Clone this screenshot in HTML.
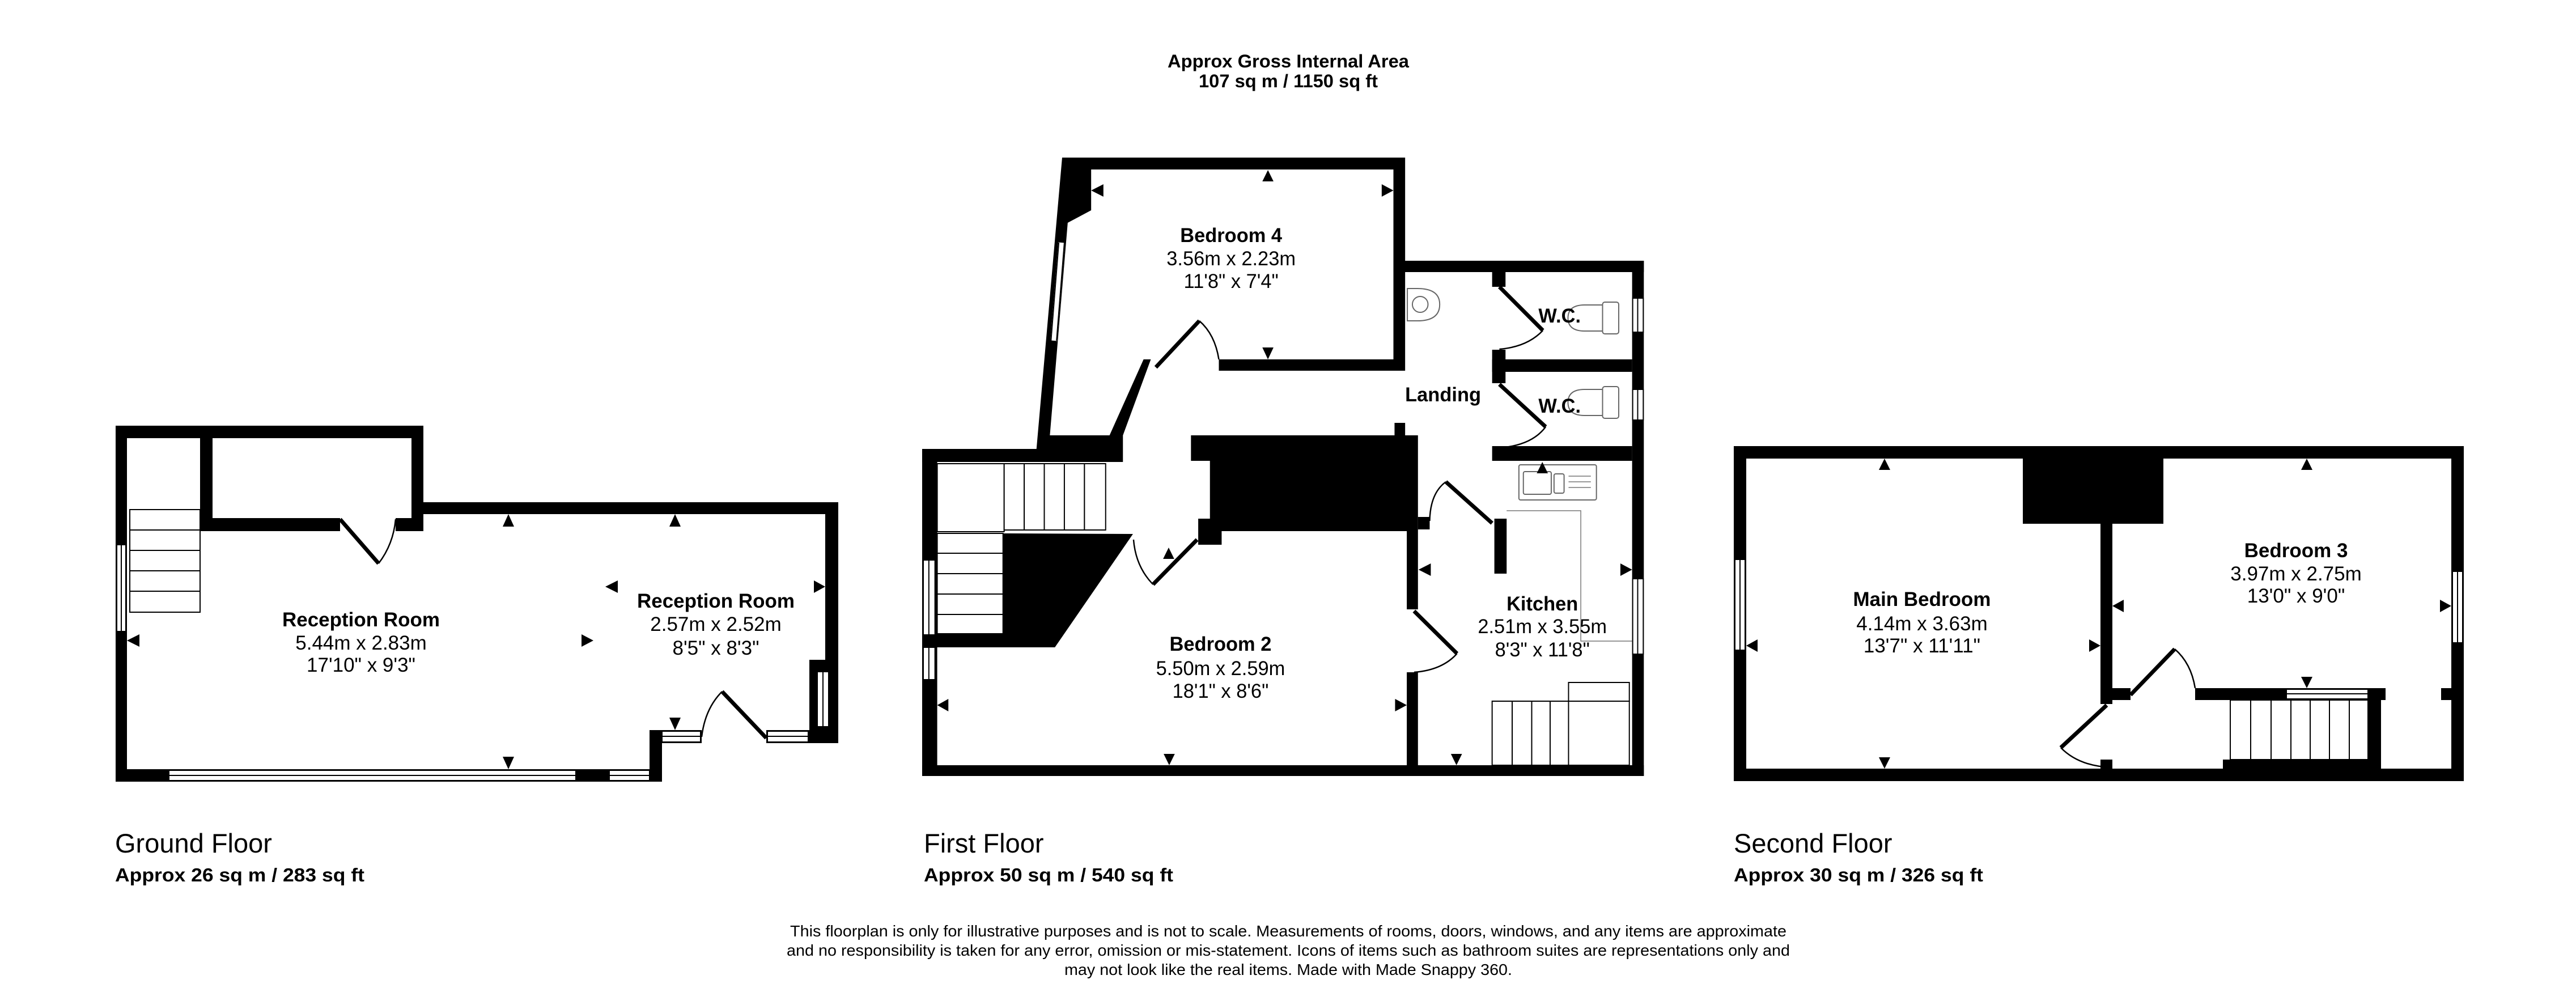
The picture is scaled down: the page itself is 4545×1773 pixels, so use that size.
<!DOCTYPE html>
<html><head><meta charset="utf-8"><style>
html,body{margin:0;padding:0;background:#fff;}
svg{display:block;}
text{font-family:"Liberation Sans",Arial,sans-serif;fill:#000;}
.b{font-weight:bold;}
.w{fill:#fff;stroke:#000;stroke-width:2;}
.t{fill:none;stroke:#777;stroke-width:1.5;}
.s{fill:#fff;stroke:#666;stroke-width:2;}
</style></head><body>
<svg width="4545" height="1773" viewBox="0 0 4545 1773" xmlns="http://www.w3.org/2000/svg">
<rect width="4545" height="1773" fill="#fff"/>

<!-- Header -->
<text x="2273" y="119" text-anchor="middle" class="b" font-size="32" textLength="426" lengthAdjust="spacingAndGlyphs">Approx Gross Internal Area</text>
<text x="2273" y="154" text-anchor="middle" class="b" font-size="32" textLength="316" lengthAdjust="spacingAndGlyphs">107 sq m / 1150 sq ft</text>

<!-- ============ GROUND FLOOR ============ -->
<g fill="#000">
<rect x="204" y="751" width="543" height="22"/>
<rect x="204" y="751" width="20" height="628"/>
<rect x="353" y="773" width="22" height="164"/>
<rect x="353" y="914" width="247" height="23"/>
<rect x="698" y="914" width="49" height="23"/>
<rect x="726" y="751" width="21" height="186"/>
<rect x="726" y="886" width="753" height="21"/>
<rect x="1456" y="886" width="23" height="425"/>
<rect x="1428" y="1164" width="51" height="147"/>
<rect x="1146" y="1288" width="92" height="23"/>
<rect x="1352" y="1288" width="76" height="23"/>
<rect x="1146" y="1288" width="22" height="91"/>
<rect x="204" y="1357" width="964" height="22"/>
</g>
<rect class="w" x="206" y="961" width="16" height="153"/><line x1="214" y1="961" x2="214" y2="1114" stroke="#000" stroke-width="2"/>
<rect class="w" x="298" y="1359" width="718" height="18"/><line x1="298" y1="1368" x2="1016" y2="1368" stroke="#000" stroke-width="2"/>
<rect class="w" x="1075" y="1359" width="71" height="18"/><line x1="1075" y1="1368" x2="1146" y2="1368" stroke="#000" stroke-width="2"/>
<rect class="w" x="1168" y="1290" width="68" height="19"/><line x1="1168" y1="1299" x2="1236" y2="1299" stroke="#000" stroke-width="2"/>
<rect class="w" x="1354" y="1290" width="72" height="19"/><line x1="1354" y1="1299" x2="1426" y2="1299" stroke="#000" stroke-width="2"/>
<rect class="w" x="1442" y="1185" width="20" height="97"/><line x1="1452" y1="1185" x2="1452" y2="1282" stroke="#000" stroke-width="2"/>
<g fill="#fff" stroke="#000" stroke-width="2">
<rect x="229" y="899" width="124" height="36"/>
<rect x="229" y="935" width="124" height="36"/>
<rect x="229" y="971" width="124" height="36"/>
<rect x="229" y="1007" width="124" height="36"/>
<rect x="229" y="1043" width="124" height="37"/>
</g>
<line x1="600" y1="916" x2="668" y2="994" stroke="#000" stroke-width="7"/>
<path d="M668 994 Q694 960 698 916" fill="none" stroke="#000" stroke-width="2.5"/>
<line x1="1352" y1="1302" x2="1274" y2="1220" stroke="#000" stroke-width="7"/>
<path d="M1274 1220 Q1244 1250 1238 1300" fill="none" stroke="#000" stroke-width="2.5"/>
<g fill="#000">
<polygon points="887,929 907,929 897,907"/>
<polygon points="1181,929 1201,929 1191,907"/>
<polygon points="887,1335 907,1335 897,1357"/>
<polygon points="246,1119 246,1141 224,1130"/>
<polygon points="1026,1119 1026,1141 1047,1130"/>
<polygon points="1090,1024 1090,1046 1068,1035"/>
<polygon points="1436,1024 1436,1046 1456,1035"/>
<polygon points="1181,1266 1201,1266 1191,1288"/>
</g>
<text x="637" y="1105" text-anchor="middle" class="b" font-size="35">Reception Room</text>
<text x="637" y="1146" text-anchor="middle" font-size="35">5.44m x 2.83m</text>
<text x="637" y="1185" text-anchor="middle" font-size="35">17'10" x 9'3"</text>
<text x="1263" y="1072" text-anchor="middle" class="b" font-size="35">Reception Room</text>
<text x="1263" y="1113" text-anchor="middle" font-size="35">2.57m x 2.52m</text>
<text x="1263" y="1155" text-anchor="middle" font-size="35">8'5" x 8'3"</text>

<text x="203" y="1504" font-size="47">Ground Floor</text>
<text x="203" y="1555" class="b" font-size="33" textLength="440" lengthAdjust="spacingAndGlyphs">Approx 26 sq m / 283 sq ft</text>

<!-- ============ FIRST FLOOR ============ -->
<g transform="translate(1628,0) scale(0.984,1) translate(-1628,0)">
<g fill="#000">
<polygon points="1878,278 2493,278 2493,654 2159,654 2159,634 2472,634 2472,299 1930,299 1930,371 1888,393 1856,768 1987,768 1987,815 1627,815 1627,792 1832,792"/>
<polygon points="1963,768 1987,768 2037,634 2024,634"/>
<rect x="1627" y="792" width="27" height="577"/>
<rect x="1627" y="1350" width="1294" height="19"/>
<rect x="2900" y="460" width="21" height="909"/>
<rect x="2472" y="460" width="449" height="20"/>
<rect x="2649" y="480" width="24" height="26"/>
<rect x="2649" y="617" width="24" height="59"/>
<rect x="2649" y="634" width="251" height="22"/>
<rect x="2649" y="787" width="251" height="26"/>
<rect x="2653" y="915" width="22" height="97"/>
<rect x="2516" y="912" width="21" height="22"/>
<rect x="2109" y="768" width="407" height="45"/>
<rect x="2143" y="813" width="373" height="124"/>
<rect x="2474" y="746" width="19" height="22"/>
<rect x="2122" y="915" width="42" height="46"/>
<rect x="2496" y="937" width="20" height="138"/>
<rect x="2496" y="1186" width="20" height="183"/>
<polygon points="1772,941 2005,942 1865,1142 1627,1142 1627,1118 1772,1118"/>
</g>
<line x1="1877" y1="428" x2="1863" y2="601" stroke="#fff" stroke-width="12"/>
<line x1="1882" y1="428" x2="1868" y2="601" stroke="#000" stroke-width="2"/>
<line x1="1872" y1="428" x2="1858" y2="601" stroke="#000" stroke-width="2"/>
<rect class="w" x="1629" y="988" width="21" height="132"/><line x1="1639" y1="988" x2="1639" y2="1120" stroke="#000" stroke-width="2"/>
<rect class="w" x="1629" y="1142" width="21" height="57"/><line x1="1639" y1="1142" x2="1639" y2="1199" stroke="#000" stroke-width="2"/>
<rect class="w" x="2901" y="526" width="19" height="60"/><line x1="2910" y1="526" x2="2910" y2="586" stroke="#000" stroke-width="2"/>
<rect class="w" x="2901" y="687" width="19" height="54"/><line x1="2910" y1="687" x2="2910" y2="741" stroke="#000" stroke-width="2"/>
<rect class="w" x="2901" y="1021" width="19" height="133"/><line x1="2910" y1="1021" x2="2910" y2="1154" stroke="#000" stroke-width="2"/>
<g fill="#fff" stroke="#000" stroke-width="2">
<rect x="1654" y="818" width="120" height="120"/>
<rect x="1774" y="818" width="36" height="117"/>
<rect x="1810" y="818" width="36" height="117"/>
<rect x="1846" y="818" width="36" height="117"/>
<rect x="1882" y="818" width="36" height="117"/>
<rect x="1918" y="818" width="38" height="117"/>
<rect x="1654" y="941" width="118" height="35"/>
<rect x="1654" y="976" width="118" height="36"/>
<rect x="1654" y="1012" width="118" height="36"/>
<rect x="1654" y="1048" width="118" height="36"/>
<rect x="1654" y="1084" width="118" height="34"/>
<rect x="2649" y="1237" width="36" height="113"/>
<rect x="2685" y="1237" width="35" height="113"/>
<rect x="2720" y="1237" width="33" height="113"/>
<rect x="2753" y="1237" width="33" height="113"/>
<rect x="2786" y="1237" width="109" height="113"/>
<rect x="2786" y="1204" width="109" height="33"/>
</g>
<line x1="2046" y1="648" x2="2124" y2="566" stroke="#000" stroke-width="7"/>
<path d="M2124 566 Q2152 590 2159 634" fill="none" stroke="#000" stroke-width="2.5"/>
<line x1="2662" y1="506" x2="2740" y2="583" stroke="#000" stroke-width="7"/>
<path d="M2740 583 Q2712 612 2662 616" fill="none" stroke="#000" stroke-width="2.5"/>
<line x1="2662" y1="678" x2="2745" y2="753" stroke="#000" stroke-width="7"/>
<path d="M2745 753 Q2720 786 2662 790" fill="none" stroke="#000" stroke-width="2.5"/>
<line x1="2566" y1="850" x2="2649" y2="923" stroke="#000" stroke-width="7"/>
<path d="M2566 850 Q2538 870 2537 919" fill="none" stroke="#000" stroke-width="2.5"/>
<line x1="2120" y1="952" x2="2041" y2="1031" stroke="#000" stroke-width="7"/>
<path d="M2041 1031 Q2010 1000 2006 952" fill="none" stroke="#000" stroke-width="2.5"/>
<line x1="2509" y1="1078" x2="2586" y2="1153" stroke="#000" stroke-width="7"/>
<path d="M2586 1153 Q2560 1182 2509 1186" fill="none" stroke="#000" stroke-width="2.5"/>
<rect class="s" x="2697" y="820" width="139" height="62" rx="3"/>
<rect class="s" x="2705" y="832" width="50" height="40" rx="3"/>
<rect class="s" x="2760" y="836" width="18" height="34" rx="3"/>
<line class="t" x1="2786" y1="840" x2="2826" y2="840"/><line class="t" x1="2786" y1="850" x2="2826" y2="850"/><line class="t" x1="2786" y1="860" x2="2826" y2="860"/>
<polyline class="t" points="2675,901 2808,901 2808,1131 2900,1131"/>
<path class="s" d="M2497 509 L2515 509 Q2555 509 2555 537 Q2555 566 2515 566 L2497 566 Z"/>
<circle class="s" cx="2520" cy="537" r="14"/>
<rect class="s" x="2847" y="533" width="29" height="56" rx="4"/>
<path class="s" d="M2847 538 L2815 538 Q2785 538 2785 561 Q2785 584 2815 584 L2847 584 Z"/>
<rect class="s" x="2847" y="682" width="29" height="56" rx="4"/>
<path class="s" d="M2847 687 L2815 687 Q2785 687 2785 710 Q2785 733 2815 733 L2847 733 Z"/>
<g fill="#000">
<polygon points="2237,320 2257,320 2247,300"/>
<polygon points="1952,325 1952,347 1930,336"/>
<polygon points="2451,325 2451,347 2472,336"/>
<polygon points="2237,613 2257,613 2247,634"/>
<polygon points="1674,1233 1674,1255 1654,1244"/>
<polygon points="2475,1233 2475,1255 2496,1244"/>
<polygon points="2060,1330 2080,1330 2070,1350"/>
<polygon points="2059,986 2079,986 2069,966"/>
<polygon points="2539,994 2539,1016 2517,1005"/>
<polygon points="2879,994 2879,1016 2900,1005"/>
<polygon points="2575,1330 2595,1330 2585,1350"/>
<polygon points="2729,835 2749,835 2739,815"/>
</g>
<text x="2181" y="427" text-anchor="middle" class="b" font-size="35">Bedroom 4</text>
<text x="2181" y="468" text-anchor="middle" font-size="35">3.56m x 2.23m</text>
<text x="2181" y="508" text-anchor="middle" font-size="35">11'8" x 7'4"</text>
<text x="2561" y="708" text-anchor="middle" class="b" font-size="35">Landing</text>
<text x="2770" y="569" text-anchor="middle" class="b" font-size="35">W.C.</text>
<text x="2770" y="728" text-anchor="middle" class="b" font-size="35">W.C.</text>
<text x="2739" y="1077" text-anchor="middle" class="b" font-size="35">Kitchen</text>
<text x="2739" y="1117" text-anchor="middle" font-size="35">2.51m x 3.55m</text>
<text x="2739" y="1158" text-anchor="middle" font-size="35">8'3" x 11'8"</text>
<text x="2162" y="1148" text-anchor="middle" class="b" font-size="35">Bedroom 2</text>
<text x="2162" y="1191" text-anchor="middle" font-size="35">5.50m x 2.59m</text>
<text x="2162" y="1231" text-anchor="middle" font-size="35">18'1" x 8'6"</text>
</g>

<text x="1630" y="1504" font-size="47">First Floor</text>
<text x="1630" y="1555" class="b" font-size="33" textLength="440" lengthAdjust="spacingAndGlyphs">Approx 50 sq m / 540 sq ft</text>

<!-- ============ SECOND FLOOR ============ -->
<g fill="#000">
<rect x="3059" y="787" width="1288" height="22"/>
<rect x="3059" y="1356" width="1288" height="22"/>
<rect x="3059" y="787" width="22" height="591"/>
<rect x="4325" y="787" width="22" height="591"/>
<rect x="3569" y="809" width="248" height="115"/>
<rect x="3706" y="924" width="21" height="318"/>
<rect x="3727" y="1214" width="32" height="21"/>
<rect x="3873" y="1214" width="336" height="21"/>
<rect x="4307" y="1214" width="18" height="21"/>
<rect x="3922" y="1340" width="279" height="16"/>
<rect x="4178" y="1214" width="23" height="142"/>
<rect x="3706" y="1340" width="21" height="16"/>
</g>
<rect class="w" x="3061" y="987" width="18" height="160"/><line x1="3070" y1="987" x2="3070" y2="1147" stroke="#000" stroke-width="2"/>
<rect class="w" x="4327" y="1008" width="18" height="126"/><line x1="4336" y1="1008" x2="4336" y2="1134" stroke="#000" stroke-width="2"/>
<rect class="w" x="4034" y="1216" width="144" height="17"/><line x1="4034" y1="1224" x2="4178" y2="1224" stroke="#000" stroke-width="2"/>
<g fill="#fff" stroke="#000" stroke-width="2">
<rect x="3935" y="1235" width="36" height="105"/>
<rect x="3971" y="1235" width="36" height="105"/>
<rect x="4007" y="1235" width="35" height="105"/>
<rect x="4042" y="1235" width="34" height="105"/>
<rect x="4076" y="1235" width="34" height="105"/>
<rect x="4110" y="1235" width="35" height="105"/>
<rect x="4145" y="1235" width="33" height="105"/>
</g>
<line x1="3759" y1="1226" x2="3837" y2="1145" stroke="#000" stroke-width="7"/>
<path d="M3837 1145 Q3866 1170 3873 1214" fill="none" stroke="#000" stroke-width="2.5"/>
<line x1="3717" y1="1244" x2="3636" y2="1319" stroke="#000" stroke-width="7"/>
<path d="M3636 1319 Q3668 1352 3727 1354" fill="none" stroke="#000" stroke-width="2.5"/>
<g fill="#000">
<polygon points="3315,829 3335,829 3325,809"/>
<polygon points="3315,1336 3335,1336 3325,1356"/>
<polygon points="3101,1128 3101,1150 3081,1139"/>
<polygon points="3686,1128 3686,1150 3706,1139"/>
<polygon points="4060,829 4080,829 4070,809"/>
<polygon points="4060,1194 4080,1194 4070,1214"/>
<polygon points="3747,1058 3747,1080 3727,1069"/>
<polygon points="4305,1058 4305,1080 4325,1069"/>
</g>
<text x="3391" y="1069" text-anchor="middle" class="b" font-size="35">Main Bedroom</text>
<text x="3391" y="1112" text-anchor="middle" font-size="35">4.14m x 3.63m</text>
<text x="3391" y="1151" text-anchor="middle" font-size="35">13'7" x 11'11"</text>
<text x="4051" y="983" text-anchor="middle" class="b" font-size="35">Bedroom 3</text>
<text x="4051" y="1024" text-anchor="middle" font-size="35">3.97m x 2.75m</text>
<text x="4051" y="1063" text-anchor="middle" font-size="35">13'0" x 9'0"</text>

<text x="3059" y="1504" font-size="47">Second Floor</text>
<text x="3059" y="1555" class="b" font-size="33" textLength="440" lengthAdjust="spacingAndGlyphs">Approx 30 sq m / 326 sq ft</text>

<!-- Disclaimer -->
<text x="2273" y="1652" text-anchor="middle" font-size="28" textLength="1758" lengthAdjust="spacingAndGlyphs">This floorplan is only for illustrative purposes and is not to scale. Measurements of rooms, doors, windows, and any items are approximate</text>
<text x="2273" y="1686" text-anchor="middle" font-size="28" textLength="1770" lengthAdjust="spacingAndGlyphs">and no responsibility is taken for any error, omission or mis-statement. Icons of items such as bathroom suites are representations only and</text>
<text x="2273" y="1720" text-anchor="middle" font-size="28" textLength="790" lengthAdjust="spacingAndGlyphs">may not look like the real items. Made with Made Snappy 360.</text>
</svg>
</body></html>
